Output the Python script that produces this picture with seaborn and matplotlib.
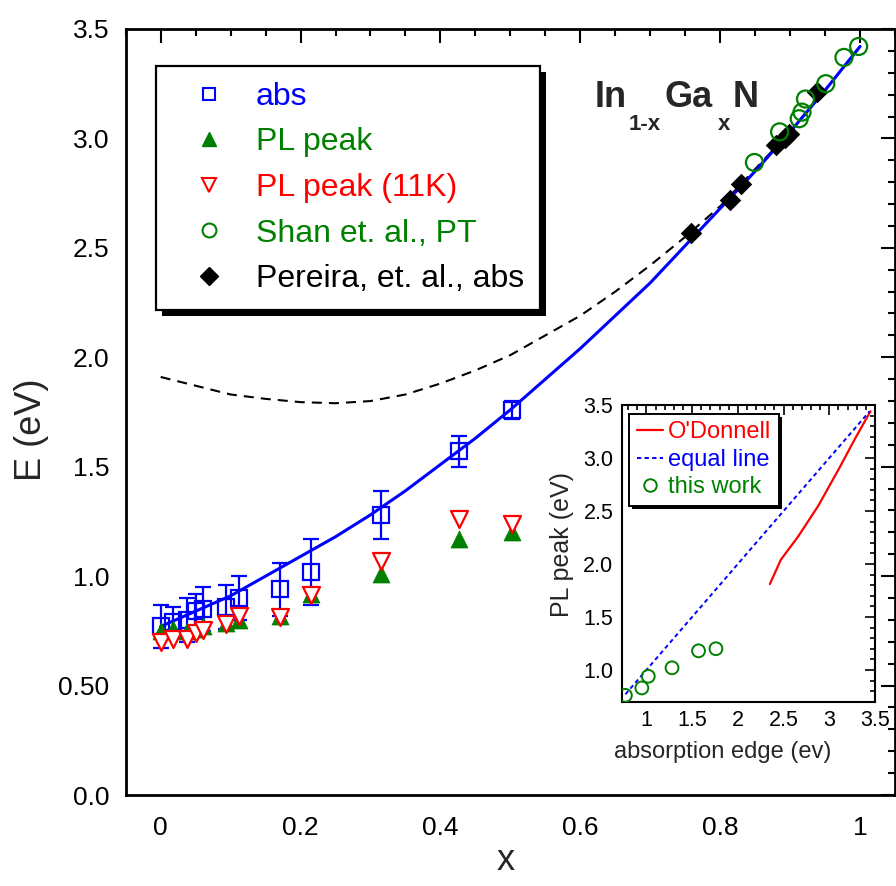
import matplotlib
matplotlib.use("Agg")
import matplotlib.pyplot as plt
import seaborn as sns
from matplotlib.lines import Line2D
from matplotlib.patches import Rectangle
from matplotlib.transforms import IdentityTransform

sns.set_theme(style="white")
plt.rcParams['font.family'] = ['Liberation Sans', 'DejaVu Sans']

# main panel data
x_abs = [0.0, 0.018, 0.038, 0.05, 0.06, 0.094, 0.112, 0.17, 0.215, 0.315, 0.427, 0.502]
E_abs = [0.77, 0.79, 0.80, 0.84, 0.85, 0.86, 0.90, 0.94, 1.02, 1.28, 1.57, 1.76]
err_abs = [0.10, 0.07, 0.10, 0.08, 0.10, 0.10, 0.10, 0.12, 0.15, 0.11, 0.07, 0.04]
E_pl = [0.75, 0.76, 0.75, 0.76, 0.77, 0.785, 0.80, 0.82, 0.92, 1.01, 1.17, 1.20]
E_pl11 = [0.70, 0.715, 0.715, 0.74, 0.755, 0.78, 0.82, 0.815, 0.915, 1.07, 1.26, 1.24]

x_shan = [0.849, 0.885, 0.913, 0.917, 0.922, 0.951, 0.977, 0.998]
E_shan = [2.89, 3.03, 3.09, 3.12, 3.18, 3.25, 3.37, 3.42]

x_per = [0.759, 0.814, 0.83, 0.88, 0.892, 0.899, 0.939]
E_per = [2.57, 2.72, 2.79, 2.97, 3.00, 3.02, 3.21]

x_fit = [0, 0.05, 0.1, 0.15, 0.2, 0.25, 0.3, 0.35, 0.4, 0.45, 0.5,
         0.55, 0.6, 0.65, 0.7, 0.75, 0.8, 0.85, 0.9, 0.95, 1.0]
E_fit = [0.77, 0.84, 0.91, 1.00, 1.09, 1.18, 1.28, 1.39, 1.51, 1.63, 1.76,
         1.90, 2.04, 2.19, 2.34, 2.51, 2.68, 2.85, 3.03, 3.22, 3.42]
E_old = [1.91, 1.87, 1.83, 1.81, 1.795, 1.79, 1.80, 1.83, 1.88, 1.94, 2.01,
         2.10, 2.19, 2.30, 2.42, 2.55, 2.69, 2.86, 3.03, 3.22, 3.42]

# inset data
x_odon = [2.35, 2.47, 2.66, 2.88, 3.10, 3.28, 3.45]
y_odon = [1.81, 2.04, 2.26, 2.55, 2.89, 3.18, 3.44]
x_eq = [0.77, 3.44]
y_eq = [0.77, 3.44]
x_tw = [0.77, 0.95, 1.02, 1.28, 1.57, 1.76]
y_tw = [0.76, 0.83, 0.94, 1.02, 1.18, 1.20]

GREEN = '#008000'

fig = plt.figure(figsize=(8.96, 8.86), dpi=100)
ax = fig.add_axes([0.1403, 0.1027, 0.8586, 0.8646])

sns.lineplot(x=x_fit, y=E_old, ax=ax, color='black', lw=1.5,
             linestyle=(0, (4.8, 3.4)), zorder=2)
sns.lineplot(x=x_fit, y=E_fit, ax=ax, color='blue', lw=2.2, zorder=3)

ax.errorbar(x_abs, E_abs, yerr=err_abs, fmt='s', ms=12, mfc='none', mec='blue',
            mew=1.6, ecolor='blue', elinewidth=1.6, capsize=6, capthick=1.6, zorder=4)
sns.scatterplot(x=x_abs, y=E_pl, ax=ax, marker='^', s=150, color=GREEN,
                edgecolor=GREEN, linewidth=0.5, zorder=5)
sns.scatterplot(x=x_abs, y=E_pl11, ax=ax, marker='v', s=150, color='white',
                edgecolor='red', linewidth=1.6, zorder=6)
sns.scatterplot(x=x_per, y=E_per, ax=ax, marker='D', s=120, color='black',
                edgecolor='black', linewidth=0, zorder=5)
sns.scatterplot(x=x_shan, y=E_shan, ax=ax, marker='o', s=150, color='none',
                edgecolor=GREEN, linewidth=1.6, zorder=6)

ax.set_xlim(-0.05, 1.05)
ax.set_ylim(0, 3.5)
ax.set_xticks([0, 0.2, 0.4, 0.6, 0.8, 1.0], labels=['0', '0.2', '0.4', '0.6', '0.8', '1'])
ax.set_xticks([i * 0.05 for i in range(-1, 22)], minor=True)
ax.set_yticks([0, 0.5, 1.0, 1.5, 2.0, 2.5, 3.0, 3.5],
              labels=['0.0', '0.50', '1.0', '1.5', '2.0', '2.5', '3.0', '3.5'])
ax.set_yticks([i * 0.1 for i in range(0, 36)], minor=True)
ax.tick_params(which='both', direction='in', top=True, right=True, width=1.5,
               colors='black', labelsize=19)
ax.tick_params(which='major', length=10)
ax.tick_params(which='minor', length=5)
ax.tick_params(axis='x', which='major', pad=15)
ax.tick_params(axis='y', which='major', pad=12)
for s in ax.spines.values():
    s.set_linewidth(2)
    s.set_color('black')

ax.set_xlabel('x', fontsize=26)
ax.set_ylabel('E (eV)', fontsize=26)
ax.xaxis.set_label_coords(0.4944, -0.062)
ax.yaxis.set_label_coords(-0.0997, 0.4765)

# legend
handles = [
    Line2D([], [], ls='none', marker='s', ms=9, mfc='none', mec='blue', mew=1.5),
    Line2D([], [], ls='none', marker='^', ms=10, color=GREEN),
    Line2D([], [], ls='none', marker='v', ms=10, mfc='white', mec='red', mew=1.5),
    Line2D([], [], ls='none', marker='o', ms=10, mfc='none', mec=GREEN, mew=1.5),
    Line2D([], [], ls='none', marker='D', ms=9, color='black'),
]
labels = ['abs', 'PL peak', 'PL peak (11K)', 'Shan et. al., PT', 'Pereira, et. al., abs']
colors = ['blue', GREEN, 'red', GREEN, 'black']
leg = ax.legend(handles, labels, loc='upper left', bbox_to_anchor=(0.039, 0.952),
                borderaxespad=0, fontsize=23, frameon=True, fancybox=False,
                edgecolor='black', framealpha=1, handlelength=2.32,
                handletextpad=0.32, borderpad=0.5, labelspacing=0.49)
leg.get_frame().set_linewidth(1.6)
for t, c in zip(leg.get_texts(), colors):
    t.set_color(c)

# compound title
fig.text(595 / 896, 1 - 107 / 886, 'In', fontsize=26, fontweight='bold', va='baseline')
fig.text(629 / 896, 1 - 130 / 886, '1-x', fontsize=16, fontweight='bold', va='baseline')
fig.text(664 / 896, 1 - 107 / 886, 'Ga', fontsize=26, fontweight='bold', va='baseline')
fig.text(718 / 896, 1 - 130 / 886, 'x', fontsize=16, fontweight='bold', va='baseline')
fig.text(733 / 896, 1 - 107 / 886, 'N', fontsize=26, fontweight='bold', va='baseline')

# inset
axin = fig.add_axes([0.6939, 0.208, 0.2827, 0.3349])
axin.set_facecolor('white')
sns.lineplot(x=x_odon, y=y_odon, ax=axin, color='red', lw=1.6, sort=False)
sns.lineplot(x=x_eq, y=y_eq, ax=axin, color='blue', lw=1.4, linestyle=(0, (2.2, 1.7)))
sns.scatterplot(x=x_tw, y=y_tw, ax=axin, marker='o', s=85, color='none',
                edgecolor=GREEN, linewidth=1.4, zorder=5)
axin.set_xlim(0.73, 3.5)
axin.set_ylim(0.7, 3.5)
axin.set_xticks([1, 1.5, 2, 2.5, 3, 3.5], labels=['1', '1.5', '2', '2.5', '3', '3.5'])
axin.set_xticks([0.8 + i * 0.1 for i in range(28)], minor=True)
axin.set_yticks([1.0, 1.5, 2.0, 2.5, 3.0, 3.5], labels=['1.0', '1.5', '2.0', '2.5', '3.0', '3.5'])
axin.set_yticks([0.8 + i * 0.1 for i in range(28)], minor=True)
axin.tick_params(which='both', direction='in', top=True, right=True, width=1.2,
                 colors='black', labelsize=15.5)
axin.tick_params(which='major', length=7)
axin.tick_params(which='minor', length=3.5)
axin.tick_params(axis='x', which='major', pad=6)
axin.tick_params(axis='y', which='major', pad=6)
for s in axin.spines.values():
    s.set_linewidth(1.5)
    s.set_color('black')
axin.set_xlabel('absorption edge (ev)', fontsize=17)
axin.set_ylabel('PL peak (eV)', fontsize=18)
axin.xaxis.set_label_coords(0.40, -0.132)
axin.yaxis.set_label_coords(-0.19, 0.53)

ihandles = [
    Line2D([], [], color='red', lw=1.6),
    Line2D([], [], color='blue', lw=1.4, ls=(0, (2.2, 1.7))),
    Line2D([], [], ls='none', marker='o', ms=9, mfc='none', mec=GREEN, mew=1.4),
]
ileg = axin.legend(ihandles, ["O'Donnell", 'equal line', 'this work'], loc='upper left',
                   bbox_to_anchor=(0.03, 0.97), borderaxespad=0, fontsize=17,
                   frameon=True, fancybox=False, edgecolor='black', framealpha=1,
                   handlelength=1.09, handletextpad=0.22, borderpad=0.32,
                   labelspacing=0.23)
ileg.get_frame().set_linewidth(1.4)
for t, c in zip(ileg.get_texts(), ['red', 'blue', GREEN]):
    t.set_color(c)

# hard drop shadows behind the two legends
fig.canvas.draw()
for lg, a, off in [(leg, ax, 6), (ileg, axin, 3)]:
    bb = lg.get_window_extent()
    sh = Rectangle((bb.x0 + off, bb.y0 - off), bb.width, bb.height,
                   transform=IdentityTransform(), facecolor='black',
                   edgecolor='none', zorder=4.5, clip_on=False)
    a.add_artist(sh)

fig.savefig('out.png', dpi=100)
